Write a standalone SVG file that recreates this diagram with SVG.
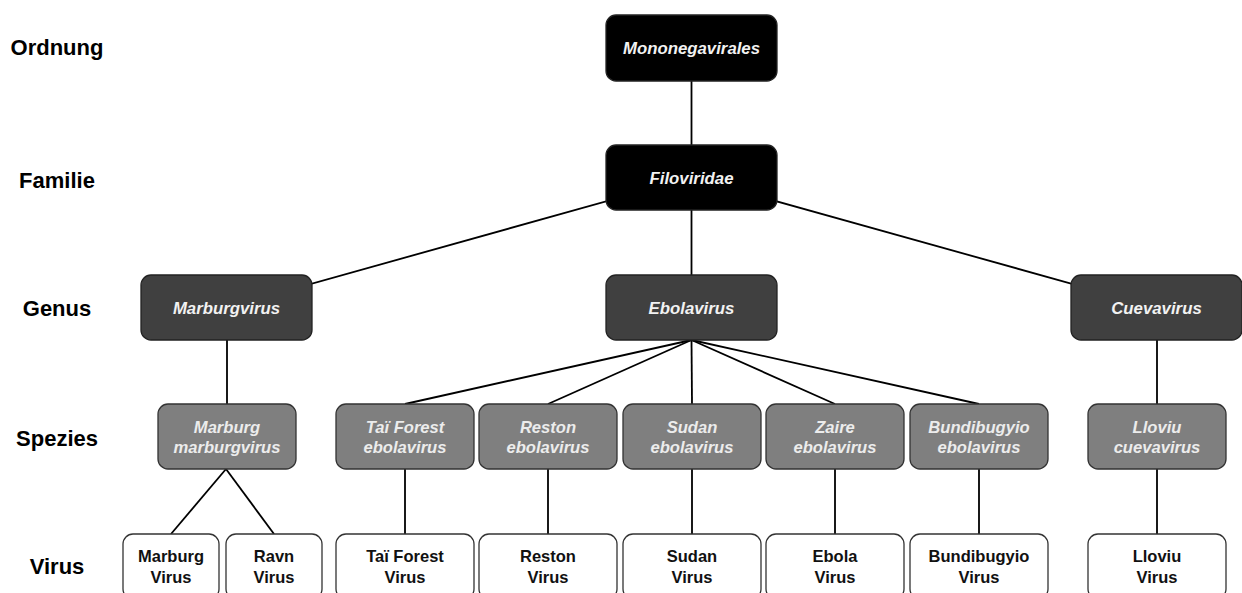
<svg xmlns="http://www.w3.org/2000/svg" width="1242" height="593" viewBox="0 0 1242 593">
<style>
.lbl{font-family:"Liberation Sans",Arial,sans-serif;font-weight:bold;font-size:22px;fill:#000;text-anchor:middle}
.n0{fill:#000;stroke:#222;stroke-width:1.3}
.n1{fill:#404040;stroke:#222;stroke-width:1.3}
.n2{fill:#7f7f7f;stroke:#333;stroke-width:1.3}
.n3{fill:#fff;stroke:#333;stroke-width:1.3}
.ti{font-family:"Liberation Sans",Arial,sans-serif;font-weight:bold;font-style:italic;font-size:16.8px;fill:#f2f2f2;text-anchor:middle}
.ts{font-family:"Liberation Sans",Arial,sans-serif;font-weight:bold;font-style:italic;font-size:16.6px;fill:#ececec;text-anchor:middle}
.tv{font-family:"Liberation Sans",Arial,sans-serif;font-weight:bold;font-size:16.5px;fill:#111;text-anchor:middle}
.c{stroke:#000;stroke-width:1.8;fill:none}
</style>
<rect width="1242" height="593" fill="#fff"/>
<g id="labels">
<text class="lbl" x="57" y="55">Ordnung</text>
<text class="lbl" x="57" y="188">Familie</text>
<text class="lbl" x="57" y="316">Genus</text>
<text class="lbl" x="57" y="446">Spezies</text>
<text class="lbl" x="57" y="574">Virus</text>
</g>
<g id="connectors">
<line class="c" x1="691.5" y1="81" x2="691.5" y2="145"/>
<line class="c" x1="691.5" y1="177.5" x2="226.5" y2="307.5"/>
<line class="c" x1="691.5" y1="210" x2="691.5" y2="275"/>
<line class="c" x1="691.5" y1="177.5" x2="1156.5" y2="307.5"/>
<line class="c" x1="227" y1="340" x2="227" y2="404"/>
<line class="c" x1="1157" y1="340" x2="1157" y2="404"/>
<line class="c" x1="691.5" y1="340" x2="405" y2="404"/>
<line class="c" x1="691.5" y1="340" x2="548" y2="404"/>
<line class="c" x1="691.5" y1="340" x2="692" y2="404"/>
<line class="c" x1="691.5" y1="340" x2="835" y2="404"/>
<line class="c" x1="691.5" y1="340" x2="979" y2="404"/>
<line class="c" x1="226" y1="469" x2="171" y2="534"/>
<line class="c" x1="226" y1="469" x2="274" y2="534"/>
<line class="c" x1="405" y1="469" x2="405" y2="534"/>
<line class="c" x1="548" y1="469" x2="548" y2="534"/>
<line class="c" x1="692" y1="469" x2="692" y2="534"/>
<line class="c" x1="835" y1="469" x2="835" y2="534"/>
<line class="c" x1="979" y1="469" x2="979" y2="534"/>
<line class="c" x1="1157" y1="469" x2="1157" y2="534"/>
</g>
<g id="mononegavirales"><rect class="n0" x="606" y="15" width="171" height="66" rx="10"/><text class="ti" x="691.5" y="54">Mononegavirales</text></g>
<g id="filoviridae"><rect class="n0" x="606" y="145" width="171" height="65" rx="10"/><text class="ti" x="691.5" y="183.5">Filoviridae</text></g>
<g id="marburgvirus"><rect class="n1" x="141" y="275" width="171" height="65" rx="10"/><text class="ti" x="226.5" y="313.5">Marburgvirus</text></g>
<g id="ebolavirus"><rect class="n1" x="606" y="275" width="171" height="65" rx="10"/><text class="ti" x="691.5" y="313.5">Ebolavirus</text></g>
<g id="cuevavirus"><rect class="n1" x="1071" y="275" width="171" height="65" rx="10"/><text class="ti" x="1156.5" y="313.5">Cuevavirus</text></g>
<g id="sp-marburg"><rect class="n2" x="158" y="404" width="138" height="65" rx="10"/><text class="ts" x="227" y="433">Marburg</text><text class="ts" x="227" y="453">marburgvirus</text></g>
<g id="sp-tai"><rect class="n2" x="336" y="404" width="138" height="65" rx="10"/><text class="ts" x="405" y="433">Taï Forest</text><text class="ts" x="405" y="453">ebolavirus</text></g>
<g id="sp-reston"><rect class="n2" x="479" y="404" width="138" height="65" rx="10"/><text class="ts" x="548" y="433">Reston</text><text class="ts" x="548" y="453">ebolavirus</text></g>
<g id="sp-sudan"><rect class="n2" x="623" y="404" width="138" height="65" rx="10"/><text class="ts" x="692" y="433">Sudan</text><text class="ts" x="692" y="453">ebolavirus</text></g>
<g id="sp-zaire"><rect class="n2" x="766" y="404" width="138" height="65" rx="10"/><text class="ts" x="835" y="433">Zaire</text><text class="ts" x="835" y="453">ebolavirus</text></g>
<g id="sp-bundibugyio"><rect class="n2" x="910" y="404" width="138" height="65" rx="10"/><text class="ts" x="979" y="433">Bundibugyio</text><text class="ts" x="979" y="453">ebolavirus</text></g>
<g id="sp-lloviu"><rect class="n2" x="1088" y="404" width="138" height="65" rx="10"/><text class="ts" x="1157" y="433">Lloviu</text><text class="ts" x="1157" y="453">cuevavirus</text></g>
<g id="v-marburg"><rect class="n3" x="123" y="534" width="96" height="65" rx="10"/><text class="tv" x="171" y="562">Marburg</text><text class="tv" x="171" y="583">Virus</text></g>
<g id="v-ravn"><rect class="n3" x="226" y="534" width="96" height="65" rx="10"/><text class="tv" x="274" y="562">Ravn</text><text class="tv" x="274" y="583">Virus</text></g>
<g id="v-tai"><rect class="n3" x="336" y="534" width="138" height="65" rx="10"/><text class="tv" x="405" y="562">Taï Forest</text><text class="tv" x="405" y="583">Virus</text></g>
<g id="v-reston"><rect class="n3" x="479" y="534" width="138" height="65" rx="10"/><text class="tv" x="548" y="562">Reston</text><text class="tv" x="548" y="583">Virus</text></g>
<g id="v-sudan"><rect class="n3" x="623" y="534" width="138" height="65" rx="10"/><text class="tv" x="692" y="562">Sudan</text><text class="tv" x="692" y="583">Virus</text></g>
<g id="v-ebola"><rect class="n3" x="766" y="534" width="138" height="65" rx="10"/><text class="tv" x="835" y="562">Ebola</text><text class="tv" x="835" y="583">Virus</text></g>
<g id="v-bundibugyio"><rect class="n3" x="910" y="534" width="138" height="65" rx="10"/><text class="tv" x="979" y="562">Bundibugyio</text><text class="tv" x="979" y="583">Virus</text></g>
<g id="v-lloviu"><rect class="n3" x="1088" y="534" width="138" height="65" rx="10"/><text class="tv" x="1157" y="562">Lloviu</text><text class="tv" x="1157" y="583">Virus</text></g>
</svg>
